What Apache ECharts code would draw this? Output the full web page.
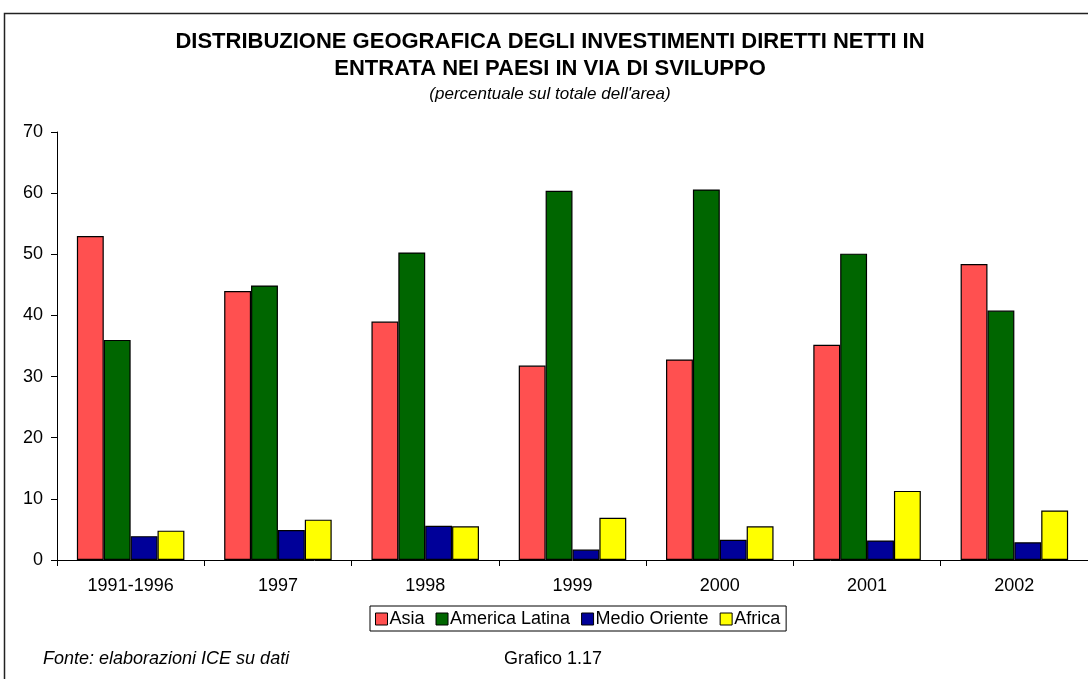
<!DOCTYPE html>
<html>
<head>
<meta charset="utf-8">
<script src="https://cdn.jsdelivr.net/npm/echarts@6/dist/echarts.min.js"></script>
<style>html,body{margin:0;padding:0;background:#fff}#c{width:1088px;height:679px}</style>
</head>
<body>
<div id="c"></div>
<script>
const categories = ['1991-1996', '1997', '1998', '1999', '2000', '2001', '2002'];
const seriesNames = ['Asia', 'America Latina', 'Medio Oriente', 'Africa'];
const asia = [53.0, 44.0, 39.0, 31.8, 32.8, 35.2, 48.4];
const americaLatina = [36.0, 44.9, 50.3, 60.4, 60.6, 50.1, 40.8];
const medioOriente = [3.9, 4.9, 5.6, 1.7, 3.3, 3.2, 2.9];
const africa = [4.8, 6.6, 5.5, 6.9, 5.5, 11.3, 8.1];
const yTicks = [0, 10, 20, 30, 40, 50, 60, 70];

const colors = ['#FF5050', '#006600', '#000099', '#FFFF00'];
const values = [asia, americaLatina, medioOriente, africa];
const FONT = '"Liberation Sans", Arial, sans-serif';

const chart = echarts.init(document.getElementById('c'), null, {renderer: 'canvas'});
chart.setOption({
  animation: false,
  backgroundColor: '#fff',
  title: [{
    text: 'DISTRIBUZIONE GEOGRAFICA DEGLI INVESTIMENTI DIRETTI NETTI IN\nENTRATA NEI PAESI IN VIA DI SVILUPPO',
    left: 550, top: 28, textAlign: 'center', padding: 0,
    textStyle: {fontFamily: FONT, fontWeight: 'bold', fontSize: 22, lineHeight: 27, color: '#000'}
  }, {
    text: "(percentuale sul totale dell'area)",
    left: 550, top: 86, textAlign: 'center', padding: 0,
    textStyle: {fontFamily: FONT, fontStyle: 'italic', fontWeight: 'normal', fontSize: 17, color: '#000'}
  }],
  legend: {
    data: seriesNames,
    left: 370, top: 606,
    padding: [4, 6, 3, 5],
    borderColor: '#000', borderWidth: 1,
    itemWidth: 12, itemHeight: 12, itemGap: 11,
    icon: 'rect',
    itemStyle: {borderColor: '#000', borderWidth: 1},
    textStyle: {fontFamily: FONT, fontSize: 18, color: '#000', padding: [0, 0, 0, -3]}
  },
  grid: {left: 57, top: 132, width: 1033, height: 428, containLabel: false},
  xAxis: {
    type: 'category', data: categories,
    axisLine: {lineStyle: {color: '#000', width: 1}},
    axisTick: {show: true, length: 6, inside: false, lineStyle: {color: '#000'}},
    axisLabel: {fontFamily: FONT, fontSize: 18, color: '#000', margin: 17}
  },
  yAxis: {
    type: 'value', min: 0, max: 70, interval: 10,
    axisLine: {show: true, lineStyle: {color: '#000', width: 1}},
    axisTick: {show: true, length: 6, lineStyle: {color: '#000'}},
    axisLabel: {fontFamily: FONT, fontSize: 18, color: '#000', margin: 14,
      formatter: v => yTicks.includes(v) ? String(v) : ''},
    splitLine: {show: false}
  },
  series: seriesNames.map((n, i) => ({
    name: n, type: 'bar', data: values[i],
    barGap: '0%', barCategoryGap: '27%',
    itemStyle: {color: colors[i], borderColor: '#000', borderWidth: 1.2}
  })),
  graphic: [{
    type: 'rect', silent: true, z: 100,
    shape: {x: 4.5, y: 13.5, width: 1200, height: 800},
    style: {fill: null, stroke: '#222', lineWidth: 1.5}
  }, {
    type: 'text', left: 43, top: 650,
    style: {text: 'Fonte: elaborazioni ICE su dati', font: 'italic 18px ' + FONT, fill: '#000'}
  }, {
    type: 'text', left: 504, top: 650,
    style: {text: 'Grafico 1.17', font: '18px ' + FONT, fill: '#000'}
  }]
});
</script>
</body>
</html>
